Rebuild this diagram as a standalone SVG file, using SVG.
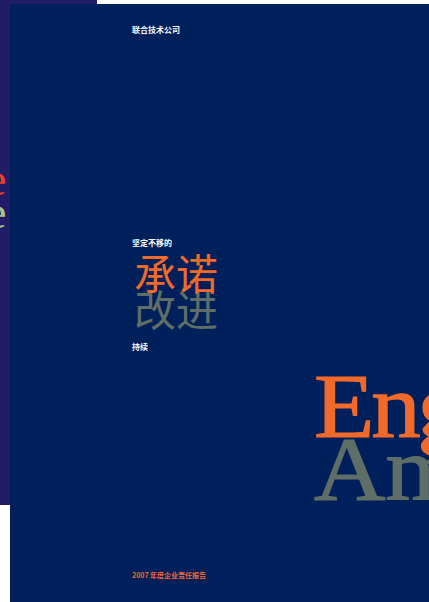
<svg xmlns="http://www.w3.org/2000/svg" width="429" height="602" viewBox="0 0 429 602">
<style>
.sm{font-family:"Noto Sans CJK SC","Liberation Sans",sans-serif;font-weight:bold;fill:#ffffff;font-size:8px}
.big{font-family:"Noto Sans CJK SC",sans-serif;font-size:42px}
.ser{font-family:"Liberation Serif",serif;font-size:90px}
</style>
<rect x="0" y="0" width="429" height="602" fill="#ffffff"/>
<g id="back-page">
<rect x="0" y="0" width="97" height="505" fill="#201c66"/>
<text x="-14" y="195" font-family="Liberation Serif,serif" font-size="46" fill="#e8402a">e</text>
<text x="-14" y="228" font-family="Liberation Serif,serif" font-size="46" fill="#a8c48c">e</text>
</g>
<g id="front-page">
<rect x="10" y="4" width="419" height="598" fill="#00205b"/>
</g>
<g id="texts">
<text class="sm" x="132" y="33">联合技术公司</text>
<text class="sm" x="132" y="246">坚定不移的</text>
<text class="big" x="134" y="326" fill="#5f6e66">改进</text>
<text class="big" x="134" y="290" fill="#f26a2a">承诺</text>
<text class="sm" x="132" y="350">持续</text>
<g transform="translate(314,0) scale(1.1,1)">
<text class="ser" x="0" y="437" fill="#f26a2a" stroke="#f26a2a" stroke-width="1.2" letter-spacing="-3">Eng</text>
<text class="ser" x="0" y="500" fill="#5f6e66" stroke="#5f6e66" stroke-width="1.2">Am</text>
</g>
<text class="sm" x="132" y="578" style="fill:#f26a2a;font-size:7px">2007 年度企业责任报告</text>
</g>
</svg>
